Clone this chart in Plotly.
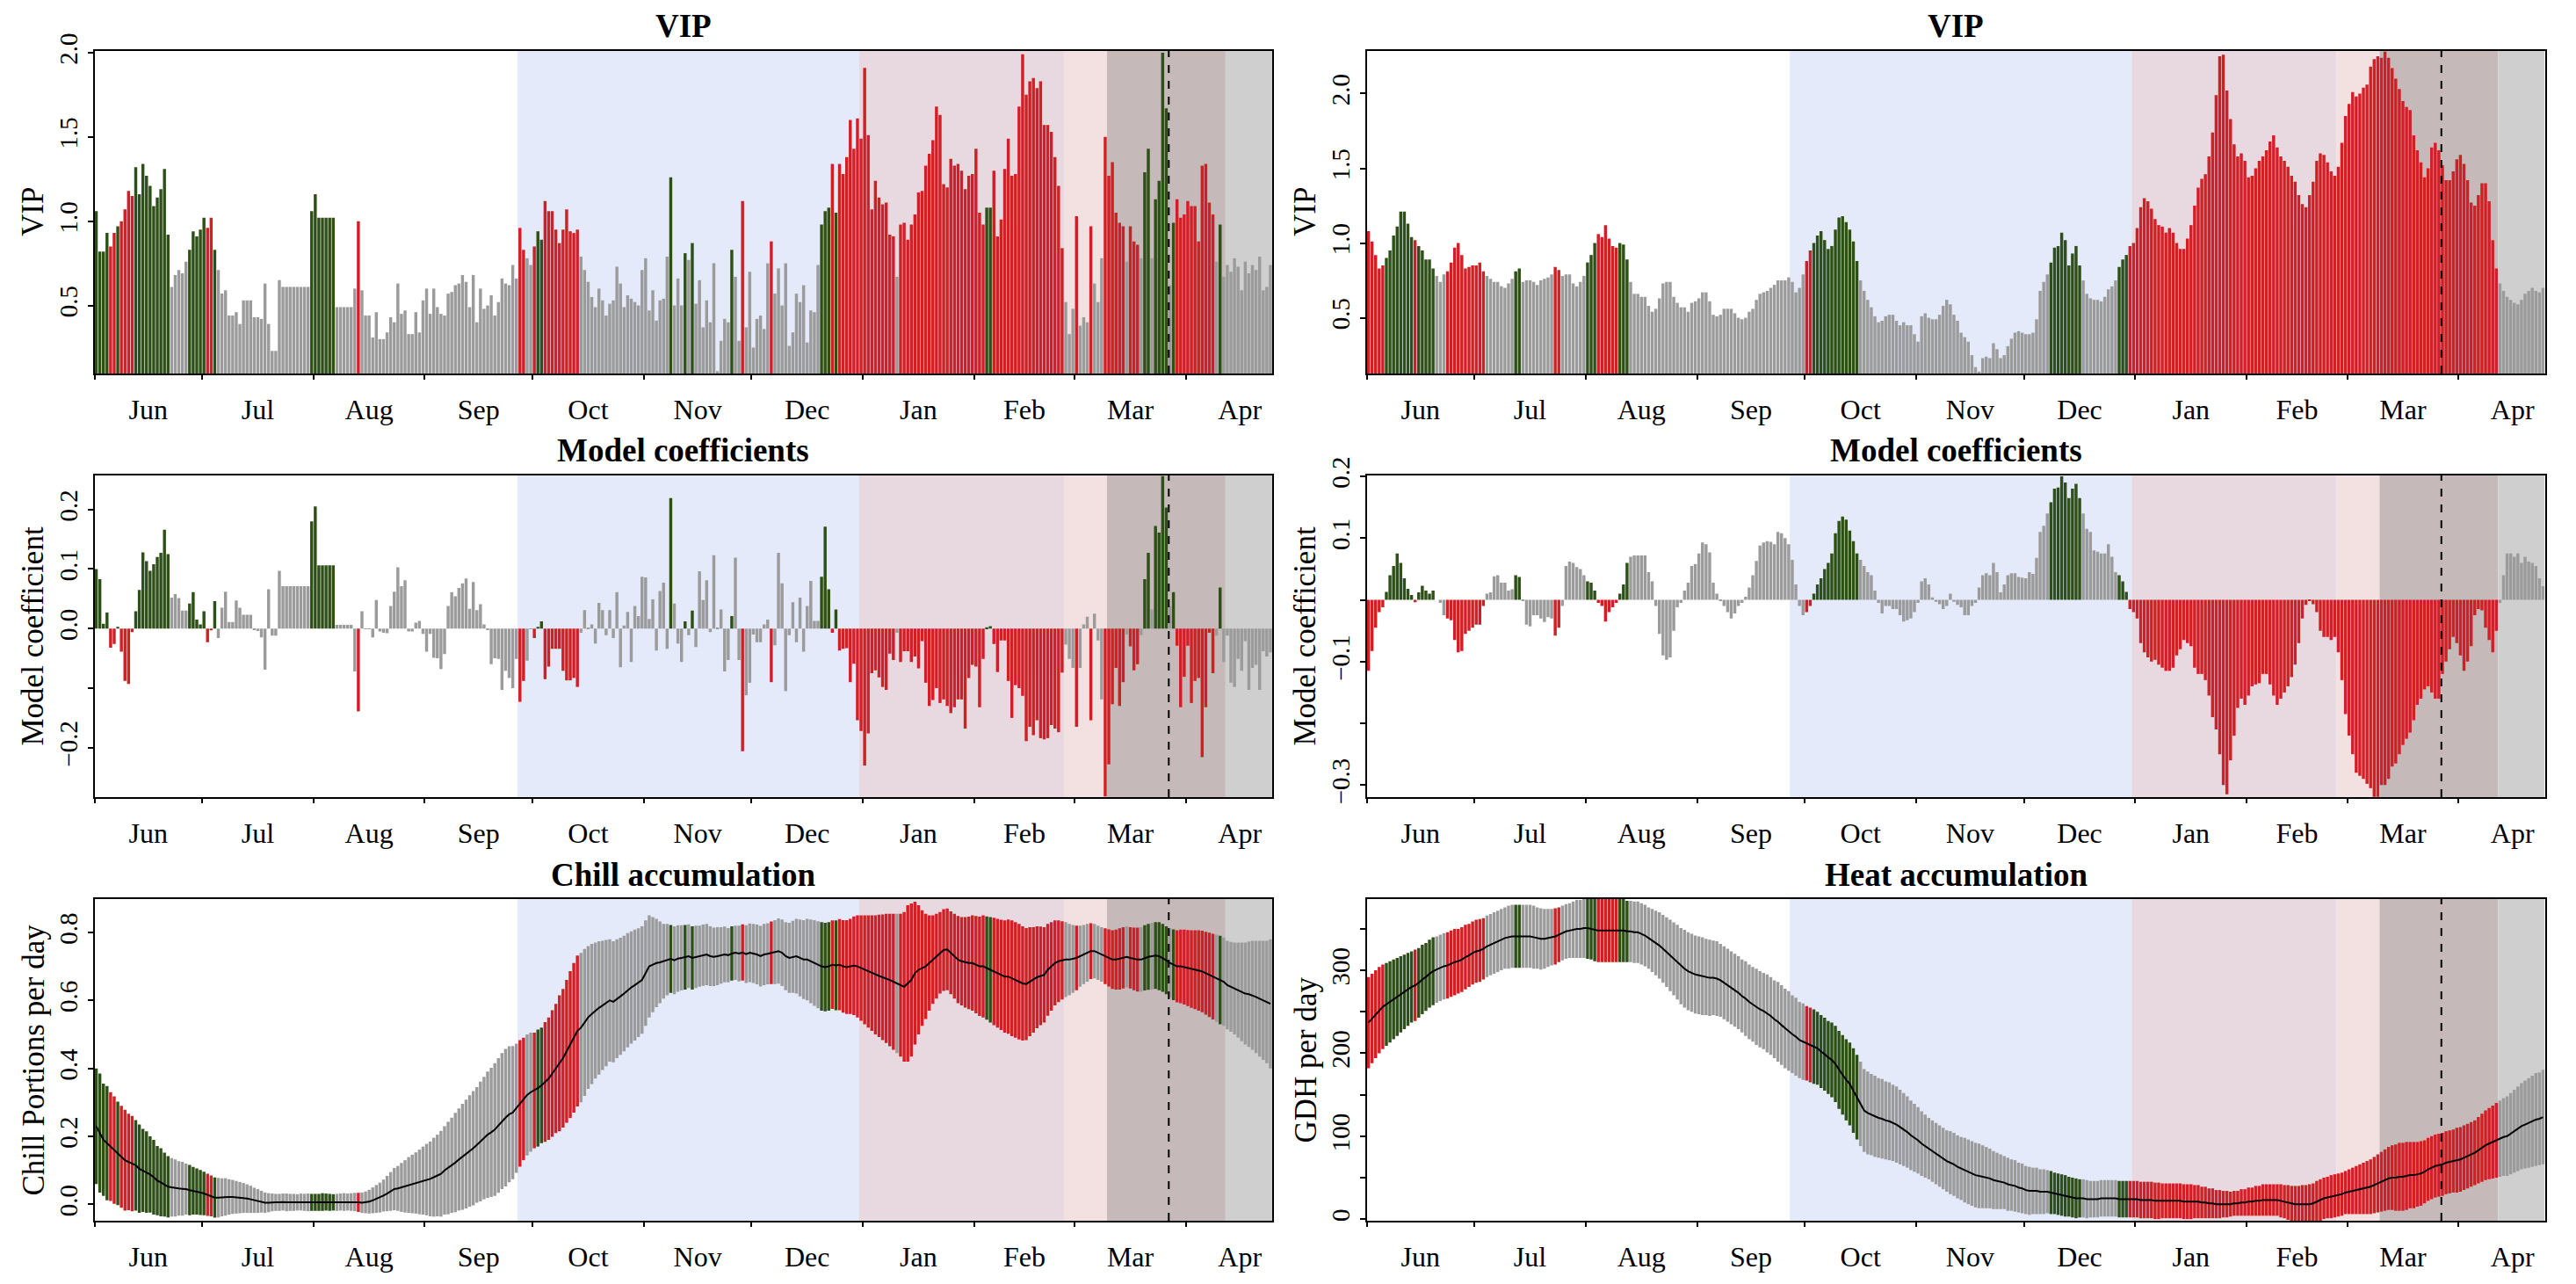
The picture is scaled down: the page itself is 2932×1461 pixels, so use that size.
import plotly.graph_objects as go

# ---------------- data (one value per day, 1 Jun .. 24 Apr) ----------------
MONTHS = ["Jun", "Jul", "Aug", "Sep", "Oct", "Nov", "Dec", "Jan", "Feb", "Mar", "Apr"]
MONTH_LEN = [30, 31, 31, 30, 31, 30, 31, 31, 28, 31, 30]
N_DAYS = 328

# phase periods (day index) and bloom date marker
PERIODS = [(117.8, 213.0, "#E4EAF9"), (213.0, 270.0, "#E8D8DF"), (270.0, 282.0, "#F3E1E2"),
           (282.0, 315.0, "#C5B9B9"), (315.0, 328.0, "#CFCFCF")]
BLOOM_DAY = 299.2

VIP_CHILL = [
    1.06,0.82,0.82,0.93,0.85,0.93,0.97,1.00,1.07,1.18,1.15,1.32,1.16,1.34,1.27,1.21,1.09,1.14,1.19,1.31,0.92,0.61,0.68,0.71,0.69,0.76,0.83,0.94,0.91,0.95,
    1.02,0.96,1.02,0.83,0.71,0.57,0.59,0.44,0.44,0.46,0.39,0.53,0.53,0.53,0.43,0.43,0.42,0.63,0.39,0.23,0.23,0.65,0.61,0.61,0.61,0.61,0.61,0.61,0.61,0.61,1.06,
    1.16,1.02,1.02,1.02,1.02,1.02,0.49,0.49,0.49,0.49,0.49,0.60,1.00,0.59,0.44,0.44,0.31,0.46,0.30,0.30,0.34,0.43,0.40,0.63,0.45,0.47,0.33,0.33,0.46,0.34,0.53,
    0.60,0.45,0.60,0.49,0.45,0.44,0.57,0.58,0.62,0.63,0.68,0.64,0.49,0.68,0.40,0.60,0.48,0.50,0.56,0.44,0.52,0.66,0.63,0.62,0.74,0.66,0.96,0.83,0.78,0.74,
    0.85,0.94,0.89,1.12,1.06,1.06,0.95,0.87,0.95,1.07,0.94,0.93,0.95,0.79,0.71,0.64,0.55,0.49,0.60,0.53,0.44,0.51,0.53,0.73,0.63,0.49,0.56,0.54,0.52,0.50,0.71,
    0.78,0.47,0.59,0.41,0.53,0.54,0.79,1.26,0.50,0.66,0.50,0.81,0.77,0.87,0.51,0.65,0.37,0.53,0.40,0.75,0.11,0.29,0.42,0.40,0.83,0.67,0.29,1.12,0.37,0.70,
    0.25,0.42,0.44,0.36,0.75,0.88,0.57,0.72,0.50,0.75,0.26,0.34,0.57,0.52,0.62,0.28,0.47,0.46,0.74,0.98,1.06,1.08,1.34,1.05,1.34,1.28,1.38,1.60,1.43,1.61,1.49,
    1.91,1.51,1.07,1.24,1.14,1.10,1.11,0.92,0.91,0.67,0.98,0.99,0.89,0.98,1.04,1.17,1.18,1.33,1.40,1.48,1.68,1.63,1.22,1.20,1.37,1.33,1.34,1.30,1.19,1.27,1.28,
    1.43,1.05,0.98,1.08,1.08,1.30,0.91,1.01,1.31,1.49,1.27,1.28,1.68,1.99,1.75,1.83,1.85,1.79,1.83,1.57,1.57,1.53,1.38,1.21,0.84,0.52,0.33,0.48,
    1.03,0.38,0.43,0.40,0.97,0.63,0.52,0.78,1.50,1.27,1.35,1.05,0.99,0.97,0.76,0.97,0.88,0.86,0.78,1.29,1.43,0.78,1.13,1.24,2.00,1.67,0.62,0.99,1.13,1.02,1.04,
    1.12,1.09,1.09,0.88,1.33,1.34,1.11,1.04,0.76,0.98,0.67,0.74,0.70,0.78,0.73,0.59,0.76,0.69,0.74,0.71,0.79,0.59,0.61,0.74,
]
COEF_CHILL = [
    0.10,0.083,0.008,0.027,-0.032,-0.026,0.003,-0.039,-0.088,-0.093,-0.006,0.029,0.065,0.128,0.113,0.097,0.108,0.12,0.127,0.166,0.125,0.052,0.058,0.051,0.03,0.03,0.042,0.061,0.015,0.007,
    0.029,-0.023,-0.003,0.046,-0.016,0.035,0.062,0.011,0.011,0.047,0.035,0.023,0.023,0.023,-0.002,-0.004,-0.015,-0.069,0.066,-0.012,-0.012,0.097,0.071,0.071,0.071,0.071,0.071,0.071,0.071,0.071,0.18,
    0.205,0.106,0.106,0.106,0.106,0.106,0.006,0.006,0.006,0.006,0.006,-0.072,-0.139,0.029,-0.001,-0.001,-0.015,0.048,-0.005,-0.007,-0.008,0.038,0.062,0.103,0.071,0.081,-0.005,-0.005,0.01,0.013,-0.009,
    -0.039,-0.009,-0.049,-0.05,-0.068,-0.043,0.038,0.061,0.054,0.068,0.076,0.084,0.033,0.078,0.031,0.041,0.007,-0.002,-0.06,-0.05,-0.051,-0.103,-0.071,-0.083,-0.1,-0.051,-0.123,-0.088,-0.054,-0.001,
    -0.016,0.003,0.012,-0.085,-0.064,-0.034,-0.034,-0.034,-0.071,-0.087,-0.087,-0.083,-0.098,-0.007,0.031,0.001,0.007,-0.025,0.043,0.031,-0.011,0.031,-0.016,0.061,-0.065,0.005,0.028,-0.056,0.038,0.021,0.087,
    0.086,0.016,0.049,-0.037,0.063,0.077,-0.034,0.219,0.042,-0.025,-0.056,0.012,-0.011,0.03,-0.031,0.096,0.048,0.081,-0.006,0.123,0.001,0.032,-0.072,-0.053,0.021,0.119,-0.053,-0.206,-0.112,-0.091,
    -0.01,-0.023,-0.023,0.007,0.015,-0.09,-0.028,0.127,0.076,-0.105,-0.011,0.044,-0.023,0.052,-0.039,0.038,0.08,0.013,0.013,0.087,0.171,0.066,-0.007,0.032,-0.037,-0.034,-0.033,-0.09,-0.059,-0.154,-0.172,
    -0.23,-0.176,-0.075,-0.07,-0.082,-0.098,-0.103,-0.042,-0.053,-0.007,-0.056,-0.038,-0.038,-0.056,-0.047,-0.067,-0.021,-0.091,-0.13,-0.12,-0.1,-0.125,-0.119,-0.13,-0.142,-0.132,-0.119,-0.119,-0.168,-0.083,-0.061,
    -0.064,-0.132,-0.051,0.002,0.004,-0.026,-0.073,-0.02,-0.02,-0.088,-0.15,-0.095,-0.1,-0.113,-0.189,-0.165,-0.179,-0.154,-0.184,-0.186,-0.184,-0.162,-0.168,-0.174,-0.074,-0.027,-0.051,-0.066,
    -0.165,-0.066,0.007,0.02,-0.154,0.025,-0.02,-0.119,-0.282,-0.228,-0.127,-0.066,-0.13,-0.09,-0.01,-0.03,-0.07,-0.06,-0.011,0.083,0.127,0.032,0.172,0.161,0.256,0.203,0.037,0.061,-0.029,-0.132,-0.081,
    -0.029,-0.125,-0.088,-0.083,-0.216,-0.132,-0.007,-0.075,-0.012,0.069,-0.056,-0.012,-0.091,-0.098,-0.051,-0.071,-0.021,-0.103,-0.066,-0.061,-0.103,-0.038,-0.047,-0.04,
]
VIP_HEAT = [
    1.08,1.01,0.92,0.83,0.85,0.90,0.95,1.05,1.11,1.21,1.21,1.13,1.04,1.02,0.98,0.95,0.89,0.89,0.83,0.78,0.74,0.79,0.81,0.87,0.97,1.00,0.92,0.83,0.84,0.85,
    0.85,0.87,0.81,0.78,0.76,0.74,0.74,0.71,0.70,0.73,0.76,0.81,0.83,0.74,0.75,0.75,0.74,0.72,0.75,0.76,0.77,0.79,0.84,0.82,0.78,0.79,0.79,0.73,0.71,0.74,0.78,
    0.87,0.92,1.00,1.06,1.04,1.12,1.03,0.98,0.97,1.00,0.99,0.89,0.74,0.66,0.66,0.64,0.64,0.58,0.54,0.56,0.63,0.73,0.74,0.74,0.64,0.60,0.57,0.57,0.54,0.60,0.61,
    0.63,0.67,0.67,0.61,0.52,0.51,0.52,0.56,0.56,0.56,0.53,0.50,0.49,0.50,0.54,0.56,0.62,0.66,0.67,0.68,0.70,0.72,0.75,0.75,0.75,0.77,0.74,0.67,0.70,0.79,
    0.88,0.95,1.00,1.05,1.08,1.02,0.96,0.98,1.09,1.17,1.18,1.14,1.09,1.01,0.88,0.75,0.68,0.62,0.57,0.51,0.47,0.48,0.51,0.52,0.52,0.48,0.45,0.47,0.45,0.45,0.39,
    0.34,0.51,0.53,0.50,0.49,0.49,0.52,0.58,0.62,0.59,0.52,0.48,0.40,0.37,0.34,0.25,0.17,0.14,0.23,0.24,0.23,0.33,0.29,0.23,0.25,0.31,0.36,0.40,0.41,0.40,
    0.39,0.39,0.40,0.49,0.68,0.74,0.79,0.87,0.97,0.98,1.07,1.02,0.85,0.93,0.98,0.85,0.75,0.66,0.63,0.62,0.62,0.61,0.64,0.69,0.71,0.75,0.84,0.89,0.92,0.98,1.00,
    1.10,1.24,1.30,1.28,1.23,1.16,1.12,1.11,1.07,1.10,1.07,1.00,0.96,0.96,1.03,1.12,1.25,1.37,1.43,1.46,1.58,1.74,1.99,2.25,2.26,2.02,1.83,1.66,1.58,1.60,1.55,
    1.44,1.45,1.50,1.55,1.58,1.62,1.68,1.72,1.64,1.58,1.55,1.51,1.45,1.41,1.32,1.26,1.24,1.32,1.41,1.55,1.60,1.59,1.54,1.48,1.45,1.51,1.67,1.85,
    1.93,2.01,1.98,2.00,2.04,2.06,2.18,2.23,2.25,2.24,2.28,2.24,2.17,2.10,2.03,1.95,1.91,1.89,1.72,1.62,1.54,1.44,1.50,1.64,1.67,1.62,1.52,1.42,1.42,1.48,1.56,
    1.59,1.53,1.42,1.27,1.25,1.32,1.40,1.40,1.28,1.02,0.83,0.73,0.68,0.64,0.62,0.60,0.59,0.62,0.66,0.68,0.70,0.68,0.67,0.70,
]
COEF_HEAT = [
    -0.115,-0.083,-0.045,-0.02,-0.012,0.013,0.04,0.055,0.075,0.06,0.035,0.018,0.008,-0.004,0.012,0.023,0.015,0.01,0.015,0.0,-0.005,-0.025,-0.03,-0.033,-0.065,-0.085,-0.083,-0.055,-0.05,-0.045,
    -0.04,-0.04,-0.01,0.01,0.012,0.038,0.04,0.028,0.028,0.015,0.017,0.04,0.037,-0.002,-0.04,-0.043,-0.025,-0.025,-0.03,-0.036,-0.028,-0.03,-0.058,-0.045,-0.01,0.055,0.062,0.06,0.053,0.05,0.04,
    0.03,0.028,0.015,-0.005,-0.01,-0.035,-0.02,-0.012,-0.005,0.01,0.025,0.06,0.07,0.072,0.072,0.072,0.072,0.045,0.03,-0.01,-0.055,-0.09,-0.097,-0.093,-0.05,-0.012,-0.005,0.015,0.028,0.055,0.058,
    0.075,0.093,0.09,0.077,0.028,0.01,-0.002,-0.01,-0.02,-0.03,-0.022,-0.01,-0.005,0.005,0.02,0.04,0.063,0.088,0.093,0.095,0.094,0.09,0.11,0.108,0.1,0.09,0.065,0.025,-0.01,-0.025,
    -0.02,-0.01,0.01,0.025,0.035,0.05,0.06,0.075,0.108,0.128,0.135,0.13,0.112,0.095,0.075,0.065,0.055,0.045,0.04,0.015,-0.005,-0.022,-0.01,-0.01,-0.015,-0.015,-0.025,-0.035,-0.033,-0.03,-0.02,
    -0.005,0.03,0.035,0.025,0.004,-0.003,-0.007,-0.015,-0.01,0.01,-0.003,-0.008,-0.012,-0.025,-0.025,-0.01,-0.005,0.02,0.04,0.043,0.04,0.06,0.045,0.012,0.025,0.04,0.043,0.043,0.037,0.036,
    0.035,0.045,0.042,0.068,0.11,0.12,0.14,0.158,0.18,0.182,0.2,0.19,0.165,0.18,0.188,0.165,0.14,0.115,0.11,0.08,0.078,0.075,0.075,0.09,0.07,0.045,0.04,0.03,0.013,-0.015,-0.02,
    -0.03,-0.07,-0.085,-0.093,-0.1,-0.097,-0.105,-0.11,-0.115,-0.115,-0.11,-0.09,-0.08,-0.065,-0.07,-0.075,-0.11,-0.12,-0.12,-0.13,-0.155,-0.19,-0.21,-0.25,-0.3,-0.315,-0.26,-0.22,-0.175,-0.16,-0.17,
    -0.155,-0.14,-0.137,-0.135,-0.12,-0.12,-0.137,-0.155,-0.17,-0.16,-0.15,-0.14,-0.125,-0.105,-0.07,-0.03,-0.008,-0.002,-0.007,-0.02,-0.05,-0.06,-0.06,-0.065,-0.06,-0.085,-0.13,-0.185,
    -0.22,-0.25,-0.28,-0.285,-0.29,-0.298,-0.305,-0.319,-0.319,-0.3,-0.3,-0.29,-0.27,-0.265,-0.25,-0.235,-0.225,-0.215,-0.195,-0.17,-0.16,-0.145,-0.14,-0.15,-0.16,-0.16,-0.12,-0.1,-0.08,-0.06,-0.07,
    -0.09,-0.115,-0.1,-0.075,-0.025,-0.015,-0.017,-0.045,-0.065,-0.085,-0.05,-0.005,0.04,0.075,0.075,0.07,0.075,0.06,0.07,0.062,0.06,0.055,0.035,0.022,
]
CHILL_MEAN = [
    0.23,0.21,0.19,0.18,0.17,0.16,0.15,0.14,0.13,0.125,0.12,0.115,0.105,0.10,0.095,0.088,0.08,0.07,0.065,0.058,0.052,0.05,0.048,0.047,0.046,0.045,0.042,0.04,0.038,0.035,
    0.032,0.028,0.025,0.02,0.02,0.021,0.022,0.022,0.022,0.021,0.02,0.019,0.017,0.015,0.012,0.01,0.008,0.005,0.005,0.006,0.006,0.006,0.007,0.006,0.006,0.006,0.006,0.007,0.006,0.006,0.006,
    0.006,0.006,0.007,0.007,0.006,0.006,0.006,0.007,0.007,0.007,0.007,0.007,0.006,0.005,0.006,0.008,0.012,0.016,0.02,0.026,0.032,0.038,0.045,0.047,0.05,0.053,0.057,0.06,0.063,0.066,0.07,
    0.073,0.075,0.08,0.085,0.09,0.10,0.107,0.115,0.123,0.132,0.14,0.148,0.157,0.165,0.175,0.185,0.195,0.205,0.212,0.22,0.232,0.245,0.255,0.265,0.27,0.283,0.297,0.31,0.322,0.33,
    0.335,0.342,0.35,0.36,0.37,0.385,0.40,0.415,0.43,0.45,0.47,0.49,0.51,0.52,0.535,0.55,0.56,0.57,0.578,0.585,0.592,0.60,0.596,0.605,0.612,0.62,0.63,0.638,0.645,0.652,0.66,
    0.68,0.70,0.705,0.71,0.712,0.715,0.72,0.722,0.718,0.723,0.725,0.727,0.73,0.725,0.728,0.73,0.733,0.735,0.73,0.728,0.73,0.732,0.735,0.733,0.738,0.74,0.738,0.741,0.736,0.74,
    0.738,0.735,0.73,0.735,0.737,0.74,0.742,0.745,0.74,0.73,0.725,0.728,0.73,0.725,0.72,0.72,0.715,0.71,0.705,0.70,0.698,0.70,0.705,0.703,0.705,0.70,0.698,0.70,0.702,0.70,0.695,
    0.69,0.685,0.68,0.675,0.672,0.668,0.665,0.66,0.655,0.65,0.645,0.64,0.65,0.66,0.68,0.69,0.695,0.70,0.71,0.72,0.73,0.74,0.748,0.75,0.74,0.73,0.72,0.715,0.712,0.71,0.71,
    0.705,0.70,0.70,0.695,0.69,0.685,0.68,0.675,0.67,0.67,0.665,0.66,0.655,0.65,0.648,0.655,0.66,0.668,0.672,0.675,0.69,0.70,0.71,0.715,0.718,0.72,0.72,0.722,
    0.725,0.73,0.735,0.74,0.745,0.745,0.74,0.735,0.73,0.725,0.72,0.72,0.722,0.725,0.728,0.725,0.722,0.72,0.72,0.725,0.728,0.73,0.732,0.73,0.725,0.718,0.71,0.705,0.70,0.70,0.698,
    0.695,0.692,0.69,0.688,0.685,0.68,0.675,0.67,0.665,0.66,0.655,0.645,0.64,0.635,0.63,0.625,0.62,0.618,0.615,0.61,0.605,0.60,0.595,0.59,
]
CHILL_SD = [
    0.17,0.175,0.165,0.168,0.16,0.158,0.152,0.15,0.148,0.142,0.14,0.133,0.13,0.122,0.12,0.112,0.11,0.102,0.1,0.094,0.09,0.086,0.084,0.08,0.079,0.075,0.074,0.07,0.068,0.066,
    0.064,0.062,0.06,0.059,0.058,0.056,0.055,0.052,0.05,0.048,0.046,0.044,0.042,0.04,0.037,0.035,0.032,0.03,0.028,0.026,0.025,0.025,0.025,0.026,0.025,0.025,0.024,0.025,0.025,0.026,0.025,
    0.025,0.025,0.026,0.025,0.025,0.024,0.025,0.025,0.026,0.025,0.026,0.027,0.028,0.03,0.032,0.035,0.038,0.041,0.044,0.047,0.052,0.057,0.062,0.066,0.072,0.077,0.082,0.086,0.09,0.095,0.10,
    0.105,0.11,0.116,0.12,0.126,0.13,0.136,0.14,0.146,0.15,0.156,0.16,0.164,0.168,0.17,0.176,0.18,0.186,0.19,0.195,0.198,0.2,0.202,0.2,0.196,0.19,0.186,0.18,0.178,0.175,
    0.17,0.172,0.17,0.176,0.18,0.186,0.19,0.2,0.204,0.21,0.216,0.22,0.222,0.22,0.216,0.21,0.206,0.2,0.196,0.19,0.186,0.18,0.178,0.175,0.172,0.17,0.168,0.165,0.163,0.16,0.158,
    0.155,0.15,0.14,0.13,0.12,0.11,0.105,0.10,0.10,0.098,0.096,0.095,0.094,0.093,0.092,0.09,0.09,0.09,0.088,0.086,0.085,0.083,0.082,0.08,0.08,0.08,0.082,0.083,0.085,0.086,
    0.087,0.088,0.089,0.09,0.09,0.092,0.094,0.096,0.098,0.10,0.103,0.106,0.11,0.113,0.116,0.12,0.123,0.126,0.128,0.13,0.13,0.13,0.13,0.132,0.134,0.136,0.138,0.14,0.145,0.15,0.155,
    0.16,0.165,0.17,0.175,0.18,0.185,0.19,0.195,0.2,0.205,0.21,0.22,0.23,0.225,0.21,0.19,0.17,0.155,0.14,0.13,0.125,0.12,0.12,0.12,0.122,0.125,0.128,0.13,0.133,0.136,0.14,
    0.143,0.146,0.15,0.152,0.155,0.158,0.16,0.162,0.165,0.168,0.17,0.17,0.17,0.168,0.165,0.16,0.155,0.15,0.145,0.14,0.135,0.13,0.125,0.12,0.115,0.11,0.105,0.10,
    0.095,0.09,0.087,0.085,0.082,0.08,0.08,0.08,0.082,0.084,0.086,0.088,0.09,0.09,0.09,0.09,0.092,0.094,0.095,0.096,0.097,0.098,0.098,0.1,0.1,0.1,0.102,0.104,0.106,0.108,0.11,
    0.112,0.114,0.116,0.118,0.12,0.122,0.124,0.126,0.128,0.13,0.13,0.13,0.132,0.135,0.14,0.145,0.15,0.155,0.16,0.165,0.17,0.175,0.18,0.19,
]
HEAT_MEAN = [
    237,242,247,252,256,259,262,265,268,271,274,277,280,282,285,289,292,296,299,301,303,305,306,308,310,311,313,316,318,321,
    323,324,326,329,331,333,335,337,339,340,341,341,341,341,341,341,340,339,338,338,339,340,341,343,345,347,348,349,350,350,351,
    351,350,349,348,348,348,348,348,348,348,348,347,347,346,346,344,342,339,336,333,330,326,322,318,314,310,305,302,299,297,295,
    294,293,292,291,291,290,288,285,282,279,276,273,269,266,262,259,256,253,251,248,245,241,238,234,230,227,223,220,216,214,
    212,210,208,206,202,199,195,192,187,180,174,168,163,155,147,139,131,128,126,124,122,121,119,118,116,114,111,108,105,101,98,
    95,91,88,85,82,79,76,73,70,68,66,63,61,59,57,55,53,52,51,50,49,47,46,45,44,42,41,40,38,37,
    35,34,34,34,33,33,33,32,31,30,29,28,27,26,25,25,25,24,24,24,24,25,25,25,25,25,24,24,24,24,24,
    24,23,23,23,23,22,22,22,22,22,22,22,22,21,21,21,21,21,20,20,19,19,18,18,18,18,18,19,19,20,20,
    21,21,22,22,23,23,23,23,23,22,21,20,19,18,18,18,18,18,19,21,23,25,26,27,28,29,30,32,
    33,34,35,36,37,38,39,41,43,45,47,49,50,50,51,51,52,53,53,54,55,57,60,62,64,65,66,68,69,70,71,
    72,74,76,78,80,83,86,89,91,93,95,97,99,100,103,106,109,112,114,116,118,120,121,123,
]
HEAT_SD = [
    55,54,53,52,51,50,49,48,47,46,45,44,43,43,42,42,41,41,41,40,40,40,40,40,40,39,39,39,38,38,
    38,38,37,37,37,37,37,37,37,38,38,38,38,38,38,38,38,37,37,36,35,34,34,33,33,33,33,34,35,35,36,
    37,37,38,38,38,38,38,38,38,38,38,37,37,37,37,37,37,37,38,39,40,41,42,43,44,45,46,47,47,47,47,
    47,47,46,46,45,45,44,44,44,44,44,44,44,45,45,45,46,46,46,47,47,47,48,48,48,48,47,47,46,46,
    45,45,45,44,44,44,44,45,46,47,48,49,50,51,51,51,50,50,49,49,48,48,47,47,46,46,45,44,43,42,41,
    40,39,38,37,37,37,37,37,37,38,38,38,38,39,39,39,39,39,38,37,36,35,34,33,32,32,31,31,30,30,
    29,29,28,28,27,27,26,26,25,25,25,25,24,24,24,23,23,23,22,22,22,22,22,22,22,22,22,22,22,22,22,
    22,22,22,22,22,22,22,21,21,21,21,21,21,21,21,21,20,20,19,19,18,18,17,17,16,16,15,15,15,16,16,
    17,17,18,18,19,19,19,19,19,20,20,21,21,22,22,23,23,24,24,25,25,25,25,26,26,26,26,26,
    27,28,29,30,31,32,33,34,35,36,37,38,39,40,41,41,41,40,40,39,39,38,38,38,38,38,38,38,38,38,39,
    39,39,39,39,39,40,41,42,43,44,45,46,47,48,49,50,51,52,53,54,55,56,56,57,
]

for name, arr in [("VIP_CHILL", VIP_CHILL), ("COEF_CHILL", COEF_CHILL), ("VIP_HEAT", VIP_HEAT),
                  ("COEF_HEAT", COEF_HEAT), ("CHILL_MEAN", CHILL_MEAN), ("CHILL_SD", CHILL_SD),
                  ("HEAT_MEAN", HEAT_MEAN), ("HEAT_SD", HEAT_SD)]:
    assert len(arr) == N_DAYS, f"{name} has {len(arr)} values"

# ---------------- styling ----------------
GREEN, RED, GRAY = "#2D5016", "#D21E25", "#9B9B9B"
FONT = "Liberation Serif"
W, H = 2932, 1461


def bar_colors(vip, coef):
    out = []
    for v, c in zip(vip, coef):
        if v >= 0.8 and c > 0:
            out.append(GREEN)
        elif v >= 0.8 and c < 0:
            out.append(RED)
        else:
            out.append(GRAY)
    return out


X = [i + 0.5 for i in range(N_DAYS)]
col_chill = bar_colors(VIP_CHILL, COEF_CHILL)
col_heat = bar_colors(VIP_HEAT, COEF_HEAT)

month_starts, label_pos, s = [], [], 0
for L in MONTH_LEN:
    month_starts.append(s)
    label_pos.append(s + L / 2)
    s += L
month_starts = [m for m in month_starts if m <= N_DAYS]

LEFT = (107.5, 1448.0)
RIGHT = (1555.5, 2896.5)
ROWS = [(58.0, 425.0), (541.0, 907.0), (1023.0, 1389.0)]

panels = [
    # (col, row, yrange, tickvals, ticktext, title, ytitle)
    (LEFT, 0, [0.096, 2.01], [0.5, 1.0, 1.5, 2.0], ["0.5", "1.0", "1.5", "2.0"], "VIP", "VIP"),
    (LEFT, 1, [-0.283, 0.257], [-0.2, -0.1, 0.0, 0.1, 0.2], ["\u22120.2", "", "0.0", "0.1", "0.2"],
     "Model coefficients", "Model coefficient"),
    (LEFT, 2, [-0.048, 0.898], [0.0, 0.2, 0.4, 0.6, 0.8], ["0.0", "0.2", "0.4", "0.6", "0.8"],
     "Chill accumulation", "Chill Portions per day"),
    (RIGHT, 0, [0.127, 2.285], [0.5, 1.0, 1.5, 2.0], ["0.5", "1.0", "1.5", "2.0"], "VIP", "VIP"),
    (RIGHT, 1, [-0.3195, 0.2015], [-0.3, -0.2, -0.1, 0.0, 0.1, 0.2],
     ["\u22120.3", "", "\u22120.1", "", "0.1", "0.2"], "Model coefficients", "Model coefficient"),
    (RIGHT, 2, [-2, 386], [0, 50, 100, 150, 200, 250, 300, 350], ["0", "", "100", "", "200", "", "300", ""],
     "Heat accumulation", "GDH per day"),
]

fig = go.Figure()
layout = dict(width=W, height=H, autosize=False, margin=dict(l=0, r=0, t=0, b=0, pad=0),
              paper_bgcolor="white", plot_bgcolor="white", showlegend=False, bargap=0.16,
              shapes=[], annotations=[])

for n, (cols, row, yr, tv, tt, title, ytitle) in enumerate(panels, start=1):
    xk = "xaxis" if n == 1 else f"xaxis{n}"
    yk = "yaxis" if n == 1 else f"yaxis{n}"
    xr = "x" if n == 1 else f"x{n}"
    yrf = "y" if n == 1 else f"y{n}"
    r0, r1 = ROWS[row]
    layout[xk] = dict(domain=[cols[0] / W, cols[1] / W], anchor=yrf, range=[0, N_DAYS],
                      automargin=False, showgrid=False, zeroline=False, showline=True,
                      linecolor="black", linewidth=2, mirror=True, tickmode="array",
                      tickvals=label_pos, ticktext=MONTHS, ticks="", ticklabelstandoff=12,
                      tickfont=dict(family=FONT, size=32, color="black"),
                      minor=dict(tickmode="array", tickvals=month_starts, ticks="outside", ticklen=5,
                                 tickwidth=1.5, tickcolor="black", showgrid=False))
    layout[yk] = dict(domain=[1 - r1 / H, 1 - r0 / H], anchor=xr, range=yr, automargin=False,
                      showgrid=False, zeroline=False, showline=True, linecolor="black", linewidth=2,
                      mirror=True, tickmode="array", tickvals=tv, ticktext=tt, ticks="outside",
                      ticklen=6, tickwidth=1.5, tickcolor="black", tickangle=-90,
                      tickfont=dict(family=FONT, size=29, color="black"))
    # background phases
    for a, b, c in PERIODS:
        layout["shapes"].append(dict(type="rect", xref=xr, yref=f"{yrf} domain", x0=a, x1=b, y0=0, y1=1,
                                     fillcolor=c, line=dict(width=0), layer="below"))
    layout["shapes"].append(dict(type="line", xref=xr, yref=f"{yrf} domain", x0=BLOOM_DAY, x1=BLOOM_DAY,
                                 y0=0, y1=1, line=dict(color="black", width=2, dash="dash"), layer="above"))
    # titles
    cx = (cols[0] + cols[1]) / 2 / W
    layout["annotations"].append(dict(text=f"<b>{title}</b>", xref="paper", yref="paper", x=cx,
                                      y=1 - (r0 - 28) / H, xanchor="center", yanchor="middle",
                                      showarrow=False, font=dict(family=FONT, size=37, color="black")))
    layout["annotations"].append(dict(text=ytitle, xref="paper", yref="paper",
                                      x=(cols[0] - 70) / W, y=1 - (r0 + r1) / 2 / H, textangle=-90,
                                      xanchor="center", yanchor="middle", showarrow=False,
                                      font=dict(family=FONT, size=35, color="black")))

# VIP and coefficient bars
for n, vals, cols in [(1, VIP_CHILL, col_chill), (2, COEF_CHILL, col_chill),
                      (4, VIP_HEAT, col_heat), (5, COEF_HEAT, col_heat)]:
    fig.add_trace(go.Bar(x=X, y=vals, marker=dict(color=cols, line=dict(width=0)),
                         xaxis="x" if n == 1 else f"x{n}", yaxis="y" if n == 1 else f"y{n}",
                         hoverinfo="skip"))

# accumulation panels: mean +- sd bars and mean line
for n, mean, sd, cols in [(3, CHILL_MEAN, CHILL_SD, col_chill), (6, HEAT_MEAN, HEAT_SD, col_heat)]:
    fig.add_trace(go.Bar(x=X, y=[2 * s for s in sd], base=[m - s for m, s in zip(mean, sd)],
                         marker=dict(color=cols, line=dict(width=0)),
                         xaxis=f"x{n}", yaxis=f"y{n}", hoverinfo="skip"))
    fig.add_trace(go.Scatter(x=X, y=mean, mode="lines", line=dict(color="black", width=2),
                             xaxis=f"x{n}", yaxis=f"y{n}", hoverinfo="skip"))

fig.update_layout(**layout)
fig.write_html("out.html", config={"displayModeBar": False},
               post_script="document.body.style.margin='0';")
